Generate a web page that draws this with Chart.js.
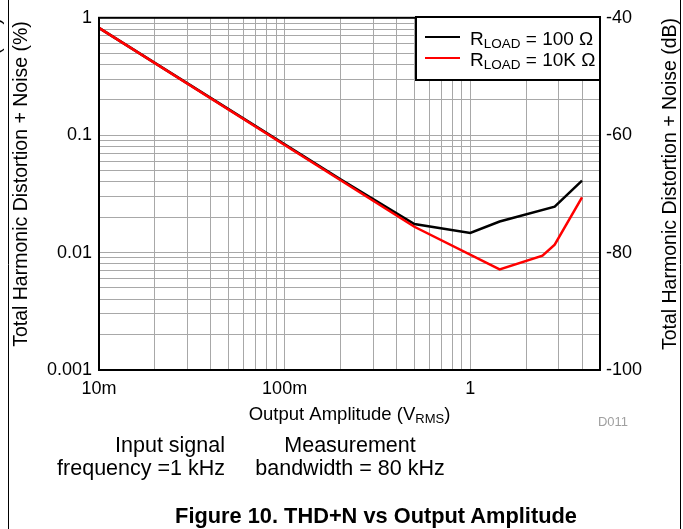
<!DOCTYPE html>
<html>
<head>
<meta charset="utf-8">
<script src="https://cdn.jsdelivr.net/npm/chart.js@4.4.0/dist/chart.umd.min.js"></script>
<style>
  body { margin: 0; background: #fff; }
  #wrap { position: relative; width: 683px; height: 529px; overflow: hidden; }
  #chart { position: absolute; left: 0; top: 0; }
  .txt { position: absolute; font-family: "Liberation Sans", Arial, sans-serif; color: #000; white-space: nowrap; }
</style>
</head>
<body>
<div id="wrap">
  <canvas id="chart" width="683" height="529"></canvas>
  <div class="txt" style="left:560px; top:414px; width:106px; text-align:center; font-size:13px; color:#a0a0a0;">D011</div>
  <div class="txt" style="left:20px; top:434px; width:205px; text-align:right; font-size:21.5px; line-height:23px;">Input signal<br>frequency =1 kHz</div>
  <div class="txt" style="left:240px; top:434px; width:220px; text-align:center; font-size:21.5px; line-height:23px;">Measurement<br>bandwidth = 80 kHz</div>
  <div class="txt" style="left:126px; top:503px; width:500px; text-align:center; font-size:21.8px; font-weight:bold;">Figure 10. THD+N vs Output Amplitude</div>
</div>
<script>
// THD+N (%) vs output amplitude (Vrms)
const blackX = [0.01, 0.2, 0.5, 1, 1.44, 2.85, 4];
const blackY = [0.82, 0.042, 0.0175, 0.0147, 0.0184, 0.0246, 0.041];
const redX = [0.01, 0.5, 1.44, 2.45, 2.85, 4];
const redY = [0.82, 0.0166, 0.0072, 0.0094, 0.0117, 0.0296];

const xTickValues = [0.01, 0.1, 1];
const xTickLabels = ['10m', '100m', '1'];
const yTickValues = [0.001, 0.01, 0.1, 1];
const yTickLabels = ['0.001', '0.01', '0.1', '1'];
const dbTicks = [-100, -80, -60, -40];

const seriesNames = ['100 \u03A9', '10K \u03A9'];
const seriesColors = ['#000000', '#ff0000'];

const FONT = '"Liberation Sans", Arial, sans-serif';

function toPoints(xs, ys) {
  return xs.map((x, i) => ({ x: x, y: ys[i] }));
}

// gridlines at 1..9 x 10^n between min and max
function logGrid(min, max) {
  const out = [];
  for (let e = Math.floor(Math.log10(min)); e <= Math.ceil(Math.log10(max)); e++) {
    for (let m = 1; m <= 9; m++) {
      const v = +(m * Math.pow(10, e)).toPrecision(6);
      if (v >= min - 1e-12 && v <= max + 1e-12) out.push({ value: v });
    }
  }
  return out;
}

function labelFor(values, labels, v) {
  for (let i = 0; i < values.length; i++) {
    if (Math.abs(values[i] - v) / values[i] < 1e-6) return labels[i];
  }
  return '';
}

function subText(ctx, x, y, parts) {
  // parts: [text, size, dy]
  let cx = x;
  parts.forEach(p => {
    ctx.font = p[1] + 'px ' + FONT;
    ctx.fillText(p[0], cx, y + p[2]);
    cx += ctx.measureText(p[0]).width;
  });
  return cx - x;
}

function partsWidth(ctx, parts) {
  let w = 0;
  parts.forEach(p => {
    ctx.font = p[1] + 'px ' + FONT;
    w += ctx.measureText(p[0]).width;
  });
  return w;
}

const decorations = {
  id: 'decorations',
  afterDraw(chart) {
    const ctx = chart.ctx;
    const a = chart.chartArea;
    ctx.save();

    // page frame lines
    ctx.strokeStyle = '#000';
    ctx.lineWidth = 1;
    ctx.beginPath();
    ctx.moveTo(8.5, 0); ctx.lineTo(8.5, 529);
    ctx.moveTo(680.5, 0); ctx.lineTo(680.5, 529);
    ctx.stroke();

    // plot border
    ctx.lineWidth = 2;
    ctx.strokeRect(a.left, a.top, a.right - a.left, a.bottom - a.top);

    // legend
    const lx = 416, ly = 17, lw = 184, lh = 63;
    ctx.fillStyle = '#fff';
    ctx.fillRect(lx, ly, lw, lh);
    ctx.strokeRect(lx, ly, lw, lh);
    const rows = [37, 58];
    rows.forEach((ry, i) => {
      ctx.strokeStyle = seriesColors[i];
      ctx.lineWidth = 2;
      ctx.beginPath();
      ctx.moveTo(425, ry); ctx.lineTo(460, ry);
      ctx.stroke();
      ctx.fillStyle = '#000';
      ctx.textAlign = 'left';
      ctx.textBaseline = 'alphabetic';
      subText(ctx, 470, ry + 8, [['R', 19, 0], ['LOAD', 13.5, 3], [' = ' + seriesNames[i], 19, 0]]);
    });

    // axis titles
    ctx.fillStyle = '#000';
    ctx.textBaseline = 'alphabetic';
    const xt = [['Output Amplitude (V', 18.5, 0], ['RMS', 13, 3], [')', 18.5, 0]];
    const w = partsWidth(ctx, xt);
    ctx.textAlign = 'left';
    subText(ctx, (a.left + a.right) / 2 - w / 2, 420, xt);

    ctx.textAlign = 'center';
    ctx.textBaseline = 'middle';
    ctx.font = '19.5px ' + FONT;
    [[22, 'Total Harmonic Distortion + Noise (%)'],
     [671, 'Total Harmonic Distortion + Noise (dB)'],
     [-5, 'Total Harmonic Distortion + Noise (dB)']].forEach(t => {
      ctx.save();
      ctx.translate(t[0], 184);
      ctx.rotate(-Math.PI / 2);
      ctx.fillText(t[1], 0, 0);
      ctx.restore();
    });
    ctx.restore();
  }
};

new Chart(document.getElementById('chart'), {
  type: 'line',
  data: {
    datasets: [
      {
        label: 'RLOAD = 100 \u03A9',
        data: toPoints(blackX, blackY),
        borderColor: seriesColors[0],
        borderWidth: 2.5,
        pointRadius: 0,
        tension: 0,
        order: 1,
        yAxisID: 'y'
      },
      {
        label: 'RLOAD = 10K \u03A9',
        data: toPoints(redX, redY),
        borderColor: seriesColors[1],
        borderWidth: 2.5,
        pointRadius: 0,
        tension: 0,
        order: 0,
        yAxisID: 'y'
      }
    ]
  },
  options: {
    responsive: false,
    animation: false,
    layout: { padding: { left: 9, right: 0, top: 17, bottom: 114 } },
    plugins: { legend: { display: false }, tooltip: { enabled: false } },
    scales: {
      x: {
        type: 'logarithmic',
        min: 0.01,
        max: 5,
        afterBuildTicks: s => { s.ticks = logGrid(0.01, 5); },
        afterFit: s => { s.height = 45; },
        grid: { color: '#a8a8a8', lineWidth: 1, drawTicks: false },
        border: { display: false },
        ticks: {
          autoSkip: false,
          maxRotation: 0,
          padding: 8,
          color: '#000',
          font: { family: FONT, size: 18 },
          callback: v => labelFor(xTickValues, xTickLabels, v)
        }
      },
      y: {
        type: 'logarithmic',
        position: 'left',
        min: 0.001,
        max: 1,
        afterBuildTicks: s => { s.ticks = logGrid(0.001, 1); },
        afterFit: s => { s.width = 90; },
        grid: { color: '#a8a8a8', lineWidth: 1, drawTicks: false },
        border: { display: false },
        ticks: {
          autoSkip: false,
          padding: 7,
          color: '#000',
          font: { family: FONT, size: 18 },
          callback: v => labelFor(yTickValues, yTickLabels, v)
        }
      },
      db: {
        type: 'linear',
        position: 'right',
        min: -100,
        max: -40,
        afterBuildTicks: s => { s.ticks = dbTicks.map(v => ({ value: v })); },
        afterFit: s => { s.width = 83; },
        grid: { display: false, drawTicks: false },
        border: { display: false },
        ticks: {
          padding: 6,
          color: '#000',
          font: { family: FONT, size: 18 },
          callback: v => String(v)
        }
      }
    }
  },
  plugins: [decorations]
});
</script>
</body>
</html>
